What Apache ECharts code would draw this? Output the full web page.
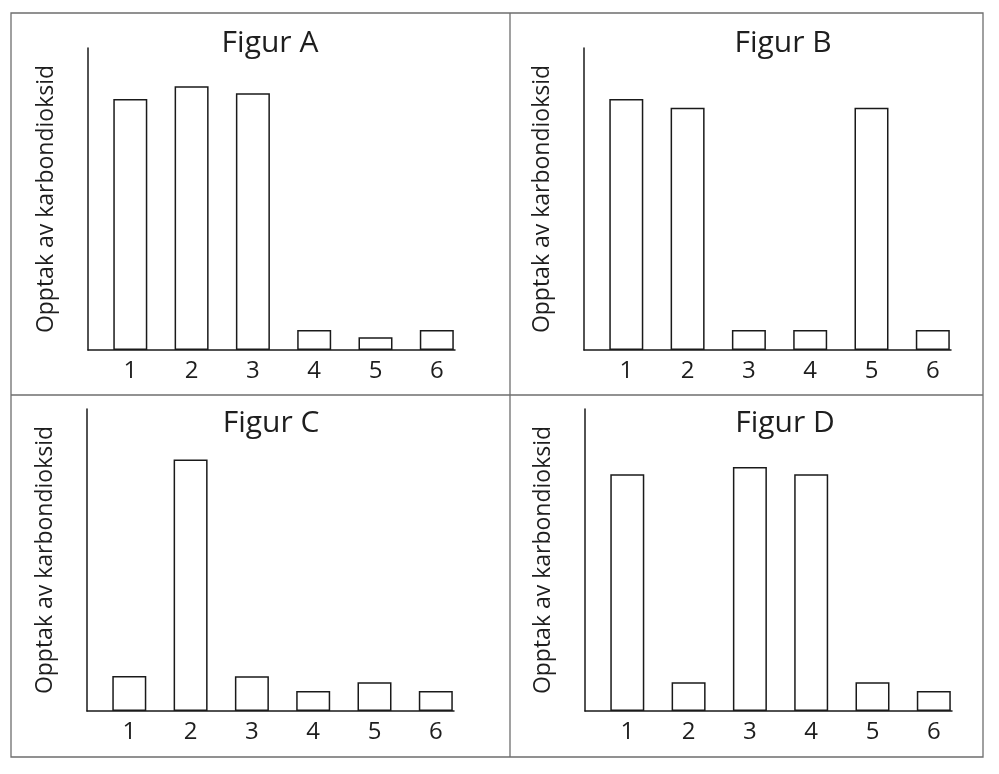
<!DOCTYPE html>
<html>
<head>
<meta charset="utf-8">
<script src="https://cdn.jsdelivr.net/npm/echarts@6/dist/echarts.min.js"></script>
<style>
  html, body { margin: 0; padding: 0; background: #fff; }
  #chart { width: 999px; height: 774px; }
</style>
</head>
<body>
<div id="chart"></div>
<script>
var categories = [1, 2, 3, 4, 5, 6];
var titles = ['Figur A', 'Figur B', 'Figur C', 'Figur D'];
var yName = 'Opptak av karbondioksid';

var figurA = [83.1, 87.3, 85.0, 6.6, 4.2, 6.6];
var figurB = [83.1, 80.2, 6.6, 6.6, 80.2, 6.6];
var figurC = [11.6, 83.3, 11.5, 6.6, 9.5, 6.6];
var figurD = [78.4, 9.5, 80.8, 78.4, 9.5, 6.6];
var allData = [figurA, figurB, figurC, figurD];

// panel layout (px)
var grids = [
    { left: 88, top: 48 },
    { left: 584, top: 48 },
    { left: 87, top: 409 },
    { left: 585, top: 409 }
];
var titlePos = [
    { left: 270, top: 28 },
    { left: 783, top: 28 },
    { left: 271, top: 408 },
    { left: 785, top: 408 }
];

var dom = document.getElementById('chart');
var myChart = echarts.init(dom, null, { renderer: 'canvas' });

var option = {
    animation: false,
    backgroundColor: '#fff',
    textStyle: { fontFamily: 'Open Sans' },
    title: [],
    grid: [],
    xAxis: [],
    yAxis: [],
    series: [],
    graphic: [{
        type: 'rect',
        shape: { x: 11, y: 13, width: 972, height: 744 },
        style: { fill: 'none', stroke: '#6e6e6e', lineWidth: 1.3 }
    }, {
        type: 'line',
        shape: { x1: 510, y1: 13, x2: 510, y2: 757 },
        style: { stroke: '#6e6e6e', lineWidth: 1.3 }
    }, {
        type: 'line',
        shape: { x1: 11, y1: 395, x2: 983, y2: 395 },
        style: { stroke: '#6e6e6e', lineWidth: 1.3 }
    }]
};

for (var i = 0; i < 4; i++) {
    option.title.push({
        text: titles[i],
        left: titlePos[i].left,
        top: titlePos[i].top,
        textAlign: 'center',
        padding: 0,
        textStyle: { fontSize: 30, fontWeight: 'normal', color: '#1e1e1e', fontFamily: 'Open Sans' }
    });
    option.grid.push({
        left: grids[i].left,
        top: grids[i].top,
        width: 367,
        height: 302,
        outerBoundsMode: 'none'
    });
    option.xAxis.push({
        type: 'value',
        gridIndex: i,
        min: 0.31,
        max: 6.297,
        axisLine: { show: true, onZero: false, lineStyle: { color: '#1a1a1a', width: 1.5 } },
        axisTick: { show: false },
        splitLine: { show: false },
        axisLabel: {
            customValues: categories,
            margin: 9,
            fontSize: 24,
            color: '#1e1e1e',
            fontFamily: 'Open Sans'
        }
    });
    option.yAxis.push({
        type: 'value',
        gridIndex: i,
        min: 0,
        max: 100,
        name: yName,
        nameLocation: 'middle',
        nameRotate: 90,
        nameGap: 30,
        nameTextStyle: { fontSize: 23, color: '#1e1e1e', fontFamily: 'Open Sans' },
        axisLine: { show: true, lineStyle: { color: '#1a1a1a', width: 1.5 } },
        axisTick: { show: false },
        axisLabel: { show: false },
        splitLine: { show: false }
    });
    option.series.push({
        type: 'bar',
        xAxisIndex: i,
        yAxisIndex: i,
        barWidth: 34,
        clip: false,
        itemStyle: { color: '#fff', borderColor: '#1a1a1a', borderWidth: 1.5 },
        data: categories.map(function (c, k) { return [c, allData[i][k]]; })
    });
}

myChart.setOption(option, true);
</script>
</body>
</html>
